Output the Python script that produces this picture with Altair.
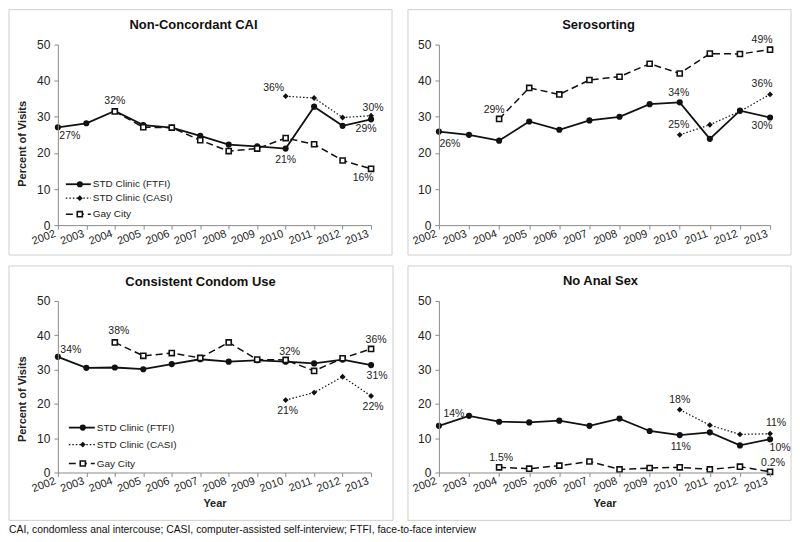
import altair as alt
import pandas as pd

YEARS = list(range(2002, 2014))
YEARS_CASI = [2010, 2011, 2012, 2013]
YEARS_GAY = list(range(2004, 2014))
Y_TICKS = [0, 10, 20, 30, 40, 50]

FTFI = "STD Clinic (FTFI)"
CASI = "STD Clinic (CASI)"
GAY = "Gay City"
SERIES = [FTFI, CASI, GAY]

# Non-Concordant CAI
NCAI_FTFI = [27.1, 28.2, 31.6, 27.7, 27.0, 24.7, 22.3, 21.8, 21.2, 32.8, 27.5, 29.3]
NCAI_CASI = [35.7, 35.2, 29.8, 30.3]
NCAI_GAY = [31.5, 27.1, 27.0, 23.5, 20.5, 21.2, 24.1, 22.4, 17.9, 15.6]
# Serosorting
SERO_FTFI = [25.9, 25.0, 23.4, 28.7, 26.4, 29.0, 30.0, 33.5, 34.0, 23.9, 31.7, 29.8]
SERO_CASI = [25.0, 27.8, 31.5, 36.2]
SERO_GAY = [29.4, 38.0, 36.2, 40.2, 41.1, 44.7, 42.0, 47.5, 47.4, 48.6]
# Consistent Condom Use
CCU_FTFI = [33.7, 30.5, 30.6, 30.1, 31.6, 33.0, 32.3, 32.7, 32.3, 31.8, 32.9, 31.3]
CCU_CASI = [21.1, 23.3, 27.9, 22.3]
CCU_GAY = [37.9, 34.0, 34.8, 33.4, 37.9, 32.9, 32.8, 29.6, 33.3, 36.0]
# No Anal Sex
NAS_FTFI = [13.6, 16.5, 14.8, 14.6, 15.1, 13.6, 15.7, 12.1, 10.9, 11.7, 7.9, 9.7]
NAS_CASI = [18.3, 13.8, 11.1, 11.3]
NAS_GAY = [1.5, 1.1, 2.0, 3.2, 0.9, 1.3, 1.5, 0.9, 1.7, 0.2]

# Annotated values (series, year, text)
NCAI_LABELS = [(FTFI, 2002, "27%"), (FTFI, 2004, "32%"), (FTFI, 2010, "21%"),
               (CASI, 2010, "36%"), (CASI, 2013, "30%"), (FTFI, 2013, "29%"),
               (GAY, 2013, "16%")]
SERO_LABELS = [(FTFI, 2002, "26%"), (GAY, 2004, "29%"), (FTFI, 2010, "34%"),
               (CASI, 2010, "25%"), (FTFI, 2013, "30%"), (CASI, 2013, "36%"),
               (GAY, 2013, "49%")]
CCU_LABELS = [(FTFI, 2002, "34%"), (GAY, 2004, "38%"), (FTFI, 2010, "32%"),
              (CASI, 2010, "21%"), (GAY, 2013, "36%"), (FTFI, 2013, "31%"),
              (CASI, 2013, "22%")]
NAS_LABELS = [(FTFI, 2002, "14%"), (CASI, 2010, "18%"), (FTFI, 2010, "11%"),
              (CASI, 2013, "11%"), (FTFI, 2013, "10%"), (GAY, 2004, "1.5%"),
              (GAY, 2013, "0.2%")]

# label offsets (pixels), parallel to the label lists
NCAI_OFF = [(12, 9), (0, -10), (0, 11), (-12, -8), (2, -8), (-5, 10), (-8, 9)]
SERO_OFF = [(11, 12), (-5, -9), (-1, -9), (-1, -10), (-8, 9), (-8, -10), (-8, -10)]
CCU_OFF = [(13, -7), (4, -11), (4, -10), (2, 11), (5, -9), (6, 11), (2, 11)]
NAS_OFF = [(15, -12), (0, -10), (1, 12), (6, -11), (10, 9), (2, -9), (3, -9)]

FOOTNOTE = "CAI, condomless anal intercouse; CASI, computer-assisted self-interview; FTFI, face-to-face interview"

FONT = "Liberation Sans"
INK = "#111111"

STYLE = {
    FTFI: dict(line=dict(strokeWidth=1.8), shape="circle", size=38, fill=INK, sw=0),
    CASI: dict(line=dict(strokeWidth=1.2, strokeDash=[1.5, 2]), shape="diamond", size=34, fill=INK, sw=0),
    GAY: dict(line=dict(strokeWidth=1.5, strokeDash=[7, 4]), shape="square", size=26, fill="white", sw=1.6),
}


def make_df(ftfi, casi, gay):
    rows = []
    for yrs, vals, s in ((YEARS, ftfi, FTFI), (YEARS_CASI, casi, CASI), (YEARS_GAY, gay, GAY)):
        for y, v in zip(yrs, vals):
            rows.append({"year": y, "value": v, "series": s})
    return pd.DataFrame(rows)


ONE = pd.DataFrame({"k": [0]})


def panel(title, ftfi, casi, gay, labels, offsets, w, h, frame, tpos,
          ytitle, xtitle, legend=None, footnote=False):
    df = make_df(ftfi, casi, gay)
    xax = alt.Axis(values=YEARS, format="d", labelAngle=340, labelAlign="right",
                   labelBaseline="middle", labelFontSize=11, labelColor="#222",
                   labelPadding=4, labelOffset=-3, labelFlush=False, labelOverlap=False,
                   tickSize=4, tickColor="#8c8c8c", domainColor="#8c8c8c",
                   grid=False, title="Year" if xtitle else None,
                   titleFontSize=11, titleFontWeight="bold", titleColor="#222",
                   titlePadding=4, zindex=1)
    yax_kw = dict(values=Y_TICKS, labelFontSize=12, labelColor="#222", labelPadding=4,
                  tickSize=4, tickColor="#8c8c8c", domainColor="#8c8c8c", grid=False, zindex=1)
    if ytitle:
        yax = alt.Axis(title="Percent of Visits", titleFontSize=11, titleFontWeight="bold",
                       titleColor="#222", titleX=ytitle[0], titleY=ytitle[1],
                       titleAlign="center", titleBaseline="middle", **yax_kw)
    else:
        yax = alt.Axis(title=None, **yax_kw)
    X = alt.X("year:Q", scale=alt.Scale(domain=[2002, 2013], nice=False, zero=False), axis=xax)
    Y = alt.Y("value:Q", scale=alt.Scale(domain=[0, 50], nice=False), axis=yax)

    fl, fr, ft, fb = frame
    layers = [alt.Chart(ONE).mark_rect(filled=False, stroke="#cfcfcf", strokeWidth=1).encode(
        x=alt.value(fl), x2=alt.value(fr), y=alt.value(ft), y2=alt.value(fb))]

    for s in SERIES:
        st = STYLE[s]
        sub = df[df.series == s]
        layers.append(alt.Chart(sub).mark_line(color=INK, **st["line"]).encode(x=X, y=Y))
    for s in SERIES:
        st = STYLE[s]
        sub = df[df.series == s]
        layers.append(alt.Chart(sub).mark_point(shape=st["shape"], size=st["size"], filled=True,
                                                fill=st["fill"], stroke=INK, strokeWidth=st["sw"],
                                                opacity=1).encode(x=X, y=Y))
    for (s, yr, txt), (dx, dy) in zip(labels, offsets):
        row = df[(df.series == s) & (df.year == yr)].assign(label=txt)
        layers.append(alt.Chart(row).mark_text(dx=dx, dy=dy, fontSize=10.5, color="#222",
                                               baseline="middle").encode(x=X, y=Y, text="label:N"))

    layers.append(alt.Chart(ONE).mark_text(fontSize=13, fontWeight="bold", color="#111",
                                           baseline="middle").encode(
        x=alt.value(tpos[0]), y=alt.value(tpos[1]), text=alt.value(title)))

    if legend:
        x1, x2, xm, xt, rows = legend
        for s, yy in zip(SERIES, rows):
            st = STYLE[s]
            layers.append(alt.Chart(ONE).mark_rule(color=INK, **st["line"]).encode(
                x=alt.value(x1), x2=alt.value(x2), y=alt.value(yy)))
            layers.append(alt.Chart(ONE).mark_point(shape=st["shape"], size=st["size"], filled=True,
                                                    fill=st["fill"], stroke=INK, strokeWidth=st["sw"],
                                                    opacity=1).encode(
                x=alt.value(xm), y=alt.value(yy)))
            layers.append(alt.Chart(ONE).mark_text(align="left", baseline="middle", fontSize=10,
                                                   color="#222").encode(
                x=alt.value(xt), y=alt.value(yy), text=alt.value(s)))

    if footnote:
        layers.append(alt.Chart(ONE).mark_text(align="left", baseline="middle", fontSize=10.4,
                                               color="#111").encode(
            x=alt.value(footnote[0]), y=alt.value(footnote[1]), text=alt.value(FOOTNOTE)))

    return alt.layer(*layers).properties(width=w, height=h)


tl = panel("Non-Concordant CAI", NCAI_FTFI, NCAI_CASI, NCAI_GAY, NCAI_LABELS, NCAI_OFF,
           314, 181, (-49, 335, -35, 211), (136, -20), (-35, 99), False,
           legend=(8, 33, 22, 35, [140, 154, 170]))
tr = panel("Serosorting", SERO_FTFI, SERO_CASI, SERO_GAY, SERO_LABELS, SERO_OFF,
           332, 181, (-31, 353, -35, 211), (160, -20), None, False)
bl = panel("Consistent Condom Use", CCU_FTFI, CCU_CASI, CCU_GAY, CCU_LABELS, CCU_OFF,
           314, 172, (-49, 336, -35, 220), (143, -19), (-35, 98), True,
           legend=(11, 37, 25, 39, [127, 144, 163]), footnote=(-49, 230))
br = panel("No Anal Sex", NAS_FTFI, NAS_CASI, NAS_GAY, NAS_LABELS, NAS_OFF,
           332, 172, (-31, 353, -35, 220), (162, -20), None, True)

chart = alt.concat(tl, tr, bl, br, columns=2, spacing={"row": 76, "column": 68},
                   bounds="flush", align="each").properties(padding=0).configure(
    font=FONT).configure_view(strokeWidth=0)

chart.save("out.html", embed_options={"renderer": "svg", "actions": False})
